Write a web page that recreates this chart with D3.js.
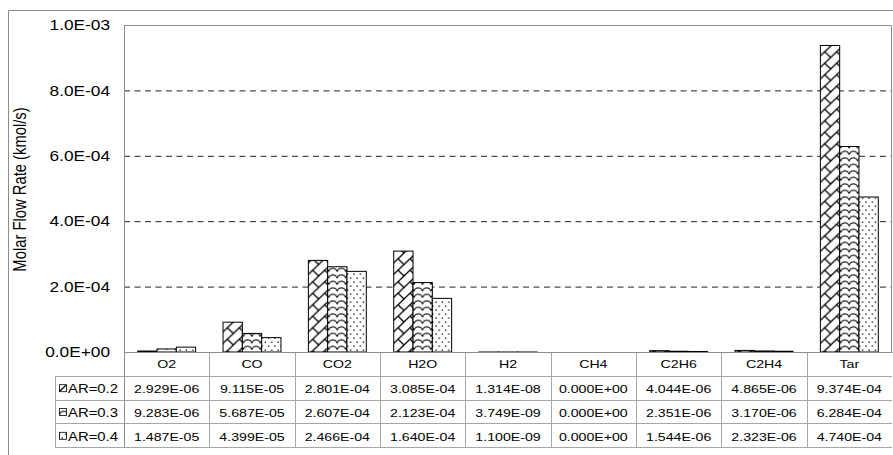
<!DOCTYPE html>
<html>
<head>
<meta charset="utf-8">
<script src="https://cdn.jsdelivr.net/npm/d3@7/dist/d3.min.js"></script>
<style>
  html, body { margin: 0; padding: 0; background: #fff; }
  svg { display: block; font-family: "Liberation Sans", Arial, sans-serif; }
</style>
</head>
<body>
<svg id="chart" width="893" height="455"></svg>
<script>
// Species along the category axis
const categories = ["O2", "CO", "CO2", "H2O", "H2", "CH4", "C2H6", "C2H4", "Tar"];
// Series names (air ratio)
const seriesNames = ["AR=0.2", "AR=0.3", "AR=0.4"];
// Molar flow rates, kmol/s
const ar02 = [2.929e-6, 9.115e-5, 2.801e-4, 3.085e-4, 1.314e-8, 0, 4.044e-6, 4.865e-6, 9.374e-4];
const ar03 = [9.283e-6, 5.687e-5, 2.607e-4, 2.123e-4, 3.749e-9, 0, 2.351e-6, 3.170e-6, 6.284e-4];
const ar04 = [1.487e-5, 4.399e-5, 2.466e-4, 1.640e-4, 1.100e-9, 0, 1.544e-6, 2.323e-6, 4.740e-4];
// Value axis ticks
const yTicks = [0, 2e-4, 4e-4, 6e-4, 8e-4, 1e-3];
const gridTicks = [2e-4, 4e-4, 6e-4, 8e-4];
const yTitle = "Molar Flow Rate (kmol/s)";

const seriesValues = [ar02, ar03, ar04];
const patternIds = ["pat-brick", "pat-wave", "pat-dots"];

// Layout
const W = 893, H = 455;
const plotL = 124, plotR = 892, plotT = 25, plotB = 352;
const rowH = 23.8;
const legendL = 55;
const SX = 1.2; // horizontal text widening

const svg = d3.select("#chart");

// Exponential label format like 2.929E-06
function sci(v, digits) {
  const s = v.toExponential(digits);
  const [m, e] = s.split("e");
  const sign = e[0] === "-" ? "-" : "+";
  const n = Math.abs(parseInt(e, 10));
  return m + "E" + sign + (n < 10 ? "0" + n : "" + n);
}

// Fill patterns
const defs = svg.append("defs");
const brick = defs.append("pattern").attr("id", "pat-brick")
  .attr("patternUnits", "userSpaceOnUse").attr("width", 10).attr("height", 10)
  .attr("patternTransform", "scale(1.2,1.15)");
brick.append("rect").attr("width", 10).attr("height", 10).attr("fill", "#fff");
brick.append("path")
  .attr("d", "M0,10L10,0M-1,1L1,-1M9,11L11,9M5,5L10,10")
  .attr("stroke", "#000").attr("stroke-width", 1.1).attr("fill", "none");

const wave = defs.append("pattern").attr("id", "pat-wave")
  .attr("patternUnits", "userSpaceOnUse").attr("width", 8.5).attr("height", 6.5);
wave.append("rect").attr("width", 8.5).attr("height", 6.5).attr("fill", "#fff");
wave.append("path")
  .attr("d", "M0,5.3C1.2,0.6 7.3,0.6 8.5,5.3")
  .attr("stroke", "#000").attr("stroke-width", 1).attr("fill", "none");

const dots = defs.append("pattern").attr("id", "pat-dots")
  .attr("patternUnits", "userSpaceOnUse").attr("width", 6.4).attr("height", 8);
dots.append("rect").attr("width", 6.4).attr("height", 8).attr("fill", "#fff");
dots.append("rect").attr("x", 1).attr("y", 1.5).attr("width", 1.3).attr("height", 1.3).attr("fill", "#000");
dots.append("rect").attr("x", 4.2).attr("y", 5.5).attr("width", 1.3).attr("height", 1.3).attr("fill", "#000");

// Scales
const x = d3.scaleBand().domain(categories).range([plotL, plotR]).paddingInner(0).paddingOuter(0);
const x1 = d3.scaleBand().domain(seriesNames).range([0, x.bandwidth()]).paddingInner(0).paddingOuter(0.71);
const y = d3.scaleLinear().domain([0, 1e-3]).range([plotB, plotT]);

// Outer frame
svg.append("path").attr("d", `M8.5,${H}V10.5H${W}`)
  .attr("fill", "none").attr("stroke", "#8c8c8c").attr("stroke-width", 1);

// Gridlines
const grid = svg.append("g").attr("transform", `translate(${plotL},0)`)
  .call(d3.axisLeft(y).tickValues(gridTicks).tickSize(-(plotR - plotL)).tickFormat(""));
grid.select(".domain").remove();
grid.selectAll(".tick line").attr("stroke", "#222").attr("stroke-dasharray", "6,4.5");

// Plot border (top and right)
svg.append("path").attr("d", `M${plotL},${plotT + 0.5}H${plotR - 0.5}V${plotB}`)
  .attr("fill", "none").attr("stroke", "#8c8c8c");

// Bars
const groups = svg.append("g").selectAll("g").data(categories).join("g")
  .attr("transform", c => `translate(${x(c)},0)`);
groups.selectAll("rect")
  .data((c, i) => seriesNames.map((s, k) => ({ s, k, v: seriesValues[k][i] })))
  .join("rect")
  .attr("x", d => x1(d.s))
  .attr("width", x1.bandwidth())
  .attr("y", d => y(d.v))
  .attr("height", d => y(0) - y(d.v))
  .attr("fill", d => `url(#${patternIds[d.k]})`)
  .attr("stroke", "#000").attr("stroke-width", 1);

// Value axis
const yAxis = svg.append("g").attr("transform", `translate(${plotL},0)`)
  .call(d3.axisLeft(y).tickValues(yTicks).tickSize(0).tickPadding(14).tickFormat(d => sci(d, 1)));
yAxis.select(".domain").remove();
yAxis.selectAll(".tick text")
  .attr("font-size", 14.4).attr("fill", "#000").attr("font-family", null)
  .attr("x", -14 / SX).attr("transform", `scale(${SX},1)`);

// Value axis line extends down through the data table
svg.append("line").attr("x1", plotL + 0.5).attr("x2", plotL + 0.5)
  .attr("y1", plotT).attr("y2", plotB + rowH * 4)
  .attr("stroke", "#8c8c8c");

// Axis title
svg.append("text")
  .attr("transform", `translate(19,${(plotT + plotB) / 2 + 1}) scale(${SX},1) rotate(-90)`)
  .attr("text-anchor", "middle").attr("dominant-baseline", "central")
  .attr("font-size", 14.8).attr("fill", "#000")
  .text(yTitle);

// Data table grid
const table = svg.append("g");
const tableB = plotB + rowH * 4;
// horizontal rules
[1, 2, 3, 4].forEach(r => {
  table.append("line")
    .attr("x1", legendL).attr("x2", plotR)
    .attr("y1", Math.round(plotB + rowH * r) + 0.5).attr("y2", Math.round(plotB + rowH * r) + 0.5)
    .attr("stroke", "#a6a6a6");
});
// column separators
categories.slice(1).forEach(c => {
  table.append("line").attr("x1", Math.round(x(c)) + 0.5).attr("x2", Math.round(x(c)) + 0.5)
    .attr("y1", plotB).attr("y2", tableB).attr("stroke", "#a6a6a6");
});
// legend column left edge
table.append("line").attr("x1", legendL + 0.5).attr("x2", legendL + 0.5)
  .attr("y1", Math.round(plotB + rowH) + 0.5).attr("y2", tableB).attr("stroke", "#a6a6a6");

// Category axis (header row of the table)
const xAxis = svg.append("g").attr("transform", `translate(0,${plotB})`)
  .call(d3.axisBottom(x).tickSize(0).tickPadding(7.5));
xAxis.select(".domain").attr("stroke", "#8c8c8c");
xAxis.selectAll(".tick text")
  .attr("font-size", 11.8).attr("fill", "#000")
  .attr("transform", `scale(${SX},1)`);

// Table values
seriesNames.forEach((s, k) => {
  const cy = plotB + rowH * (k + 1) + rowH / 2 + 1.5;
  table.selectAll(null).data(seriesValues[k]).join("text")
    .attr("transform", (d, i) => `translate(${x(categories[i]) + x.bandwidth() / 2},${cy}) scale(${SX},1)`)
    .attr("text-anchor", "middle").attr("dominant-baseline", "central")
    .attr("font-size", 11.8).attr("fill", "#000")
    .text(d => sci(d, 3));
  // legend key
  table.append("rect")
    .attr("x", 59.5).attr("y", cy - 4.5).attr("width", 7).attr("height", 7)
    .attr("fill", `url(#${patternIds[k]})`).attr("stroke", "#000").attr("stroke-width", 0.8);
  table.append("text")
    .attr("transform", `translate(68,${cy}) scale(${SX},1)`)
    .attr("dominant-baseline", "central")
    .attr("font-size", 12.4).attr("fill", "#000")
    .text(s);
});
</script>
</body>
</html>
